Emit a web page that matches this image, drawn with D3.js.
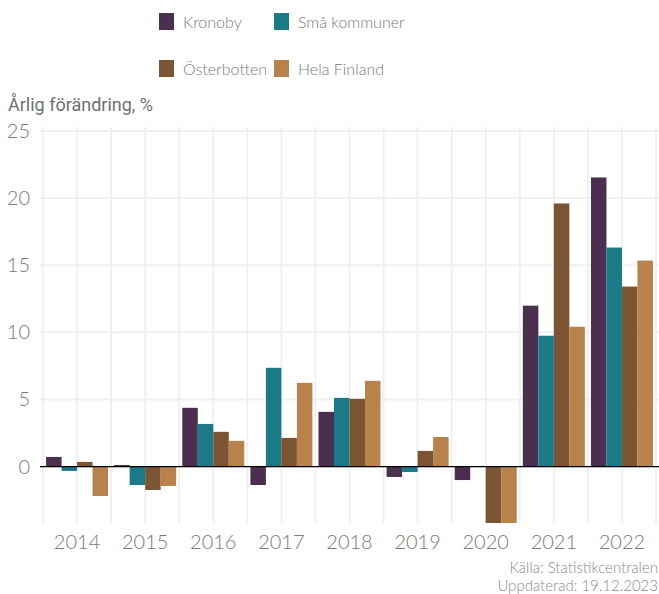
<!DOCTYPE html>
<html>
<head>
<meta charset="utf-8">
<script src="https://cdn.jsdelivr.net/npm/d3@7"></script>
<style>
  body { margin: 0; background: #fff; }
  svg text { font-family: "Lato", "Open Sans", sans-serif; font-weight: 300; }
</style>
</head>
<body>
<div id="chart"></div>
<script>
// data
const years = ["2014", "2015", "2016", "2017", "2018", "2019", "2020", "2021", "2022"];
const seriesNames = ["Kronoby", "Små kommuner", "Österbotten", "Hela Finland"];
const seriesColors = ["#4b2f4e", "#1b7a87", "#7b5434", "#b9824b"];
const kronoby = [0.72, 0.12, 4.38, -1.37, 4.08, -0.77, -1.0, 11.99, 21.54];
const smaKommuner = [-0.32, -1.37, 3.18, 7.36, 5.12, -0.40, 0, 9.75, 16.32];
const osterbotten = [0.35, -1.74, 2.59, 2.14, 5.05, 1.17, -5.6, 19.6, 13.41];
const helaFinland = [-2.19, -1.44, 1.92, 6.24, 6.39, 2.21, -4.9, 10.42, 15.35];
const yTicks = [0, 5, 10, 15, 20, 25];

const allSeries = [kronoby, smaKommuner, osterbotten, helaFinland];

const width = 659, height = 594;
const margin = { top: 131, right: 3, bottom: 71, left: 43 };
const plotW = width - margin.left - margin.right;
const plotH = height - margin.top - margin.bottom;

const svg = d3.select("#chart").append("svg")
    .attr("width", width)
    .attr("height", height);

const x = d3.scaleBand()
    .domain(years)
    .range([margin.left, margin.left + plotW])
    .paddingInner(0.09)
    .paddingOuter(0.045);

// full band scale without padding, for gridlines
const xGrid = d3.scaleBand()
    .domain(years)
    .range([margin.left, margin.left + plotW]);

const xSub = d3.scaleBand()
    .domain(seriesNames)
    .range([0, x.bandwidth()]);

const y = d3.scaleLinear()
    .domain([-4.2, 25])
    .range([margin.top + plotH, margin.top]);

const gridColor = "#f0f0f0";

// horizontal gridlines
svg.append("g")
    .selectAll("line")
    .data(yTicks)
    .join("line")
    .attr("x1", margin.left - 3)
    .attr("x2", width)
    .attr("y1", d => y(d))
    .attr("y2", d => y(d))
    .attr("stroke", gridColor)
    .attr("stroke-width", 2);

// vertical gridlines at band centers and edges
const vLines = [];
years.forEach((yr, i) => {
    vLines.push(xGrid(yr));
    vLines.push(xGrid(yr) + xGrid.bandwidth() / 2);
});
vLines.push(margin.left + plotW);
svg.append("g")
    .selectAll("line")
    .data(vLines)
    .join("line")
    .attr("x1", d => d)
    .attr("x2", d => d)
    .attr("y1", margin.top - 4)
    .attr("y2", margin.top + plotH)
    .attr("stroke", gridColor)
    .attr("stroke-width", 2);

// clip the bars to the plot area
svg.append("clipPath")
    .attr("id", "plotClip")
    .append("rect")
    .attr("x", margin.left)
    .attr("y", margin.top)
    .attr("width", plotW)
    .attr("height", plotH);

const barsG = svg.append("g").attr("clip-path", "url(#plotClip)");

seriesNames.forEach((name, s) => {
    barsG.append("g")
        .selectAll("rect")
        .data(allSeries[s])
        .join("rect")
        .attr("x", (d, i) => x(years[i]) + xSub(name))
        .attr("width", xSub.bandwidth())
        .attr("y", d => y(Math.max(0, d)))
        .attr("height", d => Math.abs(y(d) - y(0)))
        .attr("fill", seriesColors[s]);
});

// zero line
svg.append("line")
    .attr("x1", margin.left - 3)
    .attr("x2", width)
    .attr("y1", y(0))
    .attr("y2", y(0))
    .attr("stroke", "#000")
    .attr("stroke-width", 1.3);

// y axis labels
svg.append("g")
    .selectAll("text")
    .data(yTicks)
    .join("text")
    .attr("x", 30)
    .attr("y", d => y(d))
    .attr("dy", "0.35em")
    .attr("text-anchor", "end")
    .attr("fill", "#7a7a7a")
    .style("font-size", "20px")
    .text(d => d);

// x axis labels
svg.append("g")
    .selectAll("text")
    .data(years)
    .join("text")
    .attr("x", d => xGrid(d) + xGrid.bandwidth() / 2)
    .attr("y", 549)
    .attr("text-anchor", "middle")
    .attr("fill", "#7a7a7a")
    .style("font-size", "20px")
    .text(d => d);

// y title
svg.append("text")
    .attr("x", 8)
    .attr("y", 111)
    .attr("fill", "#707070")
    .style("font-family", "Roboto, 'Liberation Sans', sans-serif")
    .style("font-weight", 400)
    .style("font-size", "18px")
    .text("Årlig förändring, %");

// legend, 2 x 2
const legendPos = [
    { x: 159, y: 13 },
    { x: 274, y: 13 },
    { x: 159, y: 60 },
    { x: 274, y: 60 }
];
const legend = svg.append("g")
    .selectAll("g")
    .data(seriesNames)
    .join("g")
    .attr("transform", (d, i) => `translate(${legendPos[i].x},${legendPos[i].y})`);

legend.append("rect")
    .attr("width", 15)
    .attr("height", 17)
    .attr("fill", (d, i) => seriesColors[i]);

legend.append("text")
    .attr("x", 24)
    .attr("y", 9)
    .attr("dy", "0.35em")
    .attr("fill", "#7a7a7a")
    .style("font-size", "16px")
    .text(d => d);

// source
svg.append("text")
    .attr("x", 658)
    .attr("y", 573)
    .attr("text-anchor", "end")
    .attr("fill", "#8a8a8a")
    .style("font-size", "15px")
    .text("Källa: Statistikcentralen");

svg.append("text")
    .attr("x", 658)
    .attr("y", 591)
    .attr("text-anchor", "end")
    .attr("fill", "#8a8a8a")
    .style("font-size", "15px")
    .text("Uppdaterad: 19.12.2023");
</script>
</body>
</html>
